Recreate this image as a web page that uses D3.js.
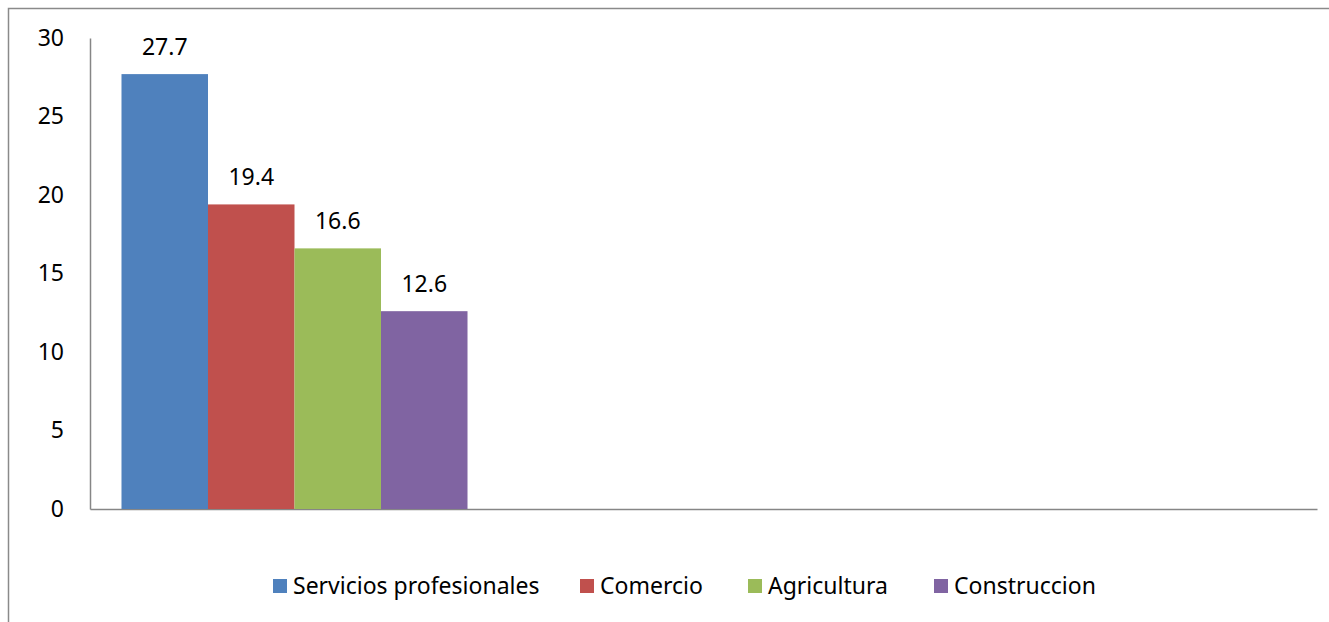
<!DOCTYPE html>
<html>
<head>
<meta charset="utf-8">
<script src="https://cdn.jsdelivr.net/npm/d3@7"></script>
<style>
  html, body { margin: 0; padding: 0; background: #fff; }
  svg { display: block; }
  text { font-family: "Noto Sans", "Open Sans", sans-serif; fill: #000; }
</style>
</head>
<body>
<svg id="chart" width="1329" height="622"></svg>
<script>
// Sector shares (single category group, chart reserves three slots)
const slots = ["g1", "g2", "g3"];
const series = ["Servicios profesionales", "Comercio", "Agricultura", "Construccion"];
const values = [27.7, 19.4, 16.6, 12.6];
const colors = ["#4F81BD", "#C0504D", "#9BBB59", "#8064A2"];
const yTicks = [0, 5, 10, 15, 20, 25, 30];

const svg = d3.select("#chart");
const W = 1329, H = 622;
const plot = { left: 90, right: 1317, top: 38, bottom: 509 };
const fontSize = 23;

// outer chart frame (extends past the visible area on right/bottom)
svg.append("rect")
  .attr("x", 8.5).attr("y", 8.5)
  .attr("width", W + 20).attr("height", H + 20)
  .attr("fill", "none").attr("stroke", "#8a8a8a").attr("stroke-width", 1.5);

const y = d3.scaleLinear().domain([0, 30]).range([plot.bottom, plot.top]);
const x0 = d3.scaleBand().domain(slots).range([plot.left, plot.right])
  .paddingInner(0.154).paddingOuter(0.077);
const x1 = d3.scaleBand().domain(series).range([0, x0.bandwidth()]);

// y axis: line and labels only
const yAxis = d3.axisLeft(y).tickValues(yTicks).tickSize(0).tickPadding(26);
const gy = svg.append("g").attr("transform", `translate(${plot.left},0)`).call(yAxis);
gy.select(".domain").attr("stroke", "#868686").attr("stroke-width", 1.5);
gy.selectAll("text").attr("font-size", fontSize).attr("font-family", '"Noto Sans", sans-serif').attr("fill", "#000");

// x axis baseline
const gx = svg.append("g").attr("transform", `translate(0,${plot.bottom})`)
  .call(d3.axisBottom(x0).tickSize(0).tickFormat(""));
gx.select(".domain").attr("stroke", "#868686").attr("stroke-width", 1.5);

// bars
const group = svg.append("g").attr("transform", `translate(${x0(slots[0])},0)`);
group.selectAll("rect").data(values).join("rect")
  .attr("x", (d, i) => x1(series[i]))
  .attr("y", d => y(d))
  .attr("width", x1.bandwidth())
  .attr("height", d => y(0) - y(d))
  .attr("fill", (d, i) => colors[i]);

// value labels
group.selectAll("text.val").data(values).join("text")
  .attr("class", "val")
  .attr("x", (d, i) => x1(series[i]) + x1.bandwidth() / 2)
  .attr("y", d => y(d) - 19)
  .attr("text-anchor", "middle")
  .attr("font-size", fontSize)
  .text(d => d.toFixed(1));

// legend
const legendY = 586;
const legendX = [273, 580, 748, 934];
const leg = svg.append("g");
series.forEach((s, i) => {
  leg.append("rect")
    .attr("x", legendX[i]).attr("y", legendY - 7)
    .attr("width", 14).attr("height", 14)
    .attr("fill", colors[i]);
  leg.append("text")
    .attr("x", legendX[i] + 20).attr("y", legendY)
    .attr("dy", "0.35em")
    .attr("font-size", fontSize)
    .text(s);
});
</script>
</body>
</html>
